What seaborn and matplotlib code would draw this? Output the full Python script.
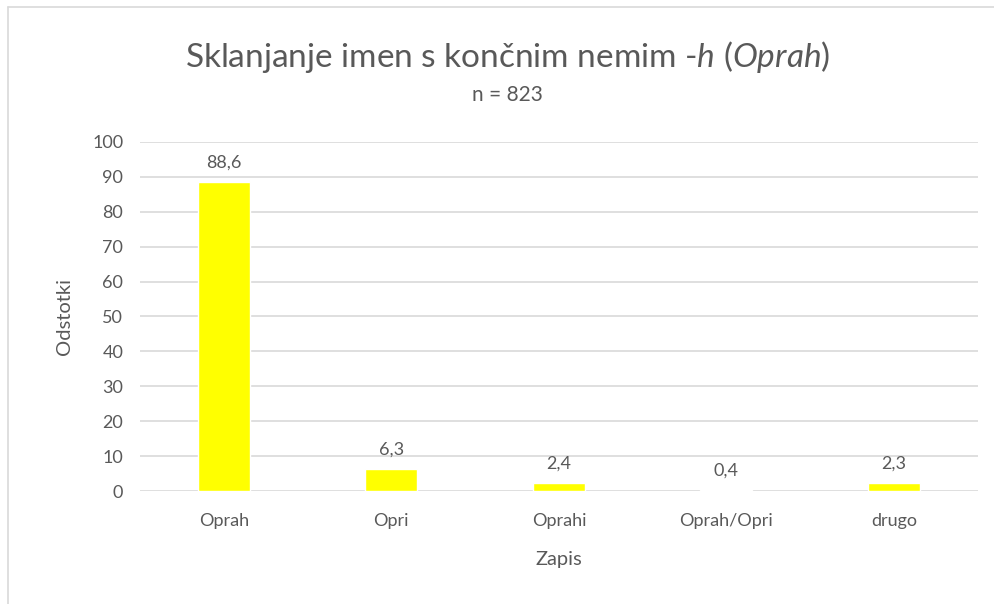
import pandas as pd
import matplotlib
matplotlib.use("Agg")
import matplotlib.pyplot as plt
import seaborn as sns

# data
zapis = ["Oprah", "Opri", "Oprahi", "Oprah/Opri", "drugo"]
odstotki = [88.6, 6.3, 2.4, 0.4, 2.3]
yticks = [0, 10, 20, 30, 40, 50, 60, 70, 80, 90, 100]

df = pd.DataFrame({"zapis": zapis, "odstotki": odstotki})

sns.set_style("white")
plt.rcParams["font.family"] = ["Lato", "DejaVu Sans"]
plt.rcParams["mathtext.fontset"] = "custom"
plt.rcParams["mathtext.rm"] = "Lato"
plt.rcParams["mathtext.it"] = "Lato:italic"

txt = "#595959"
fig = plt.figure(figsize=(9.95, 6.04), dpi=100)
ax = fig.add_axes([0.1407, 0.187, 0.842, 0.578])

sns.barplot(data=df, x="zapis", y="odstotki", color="#FFFF00", saturation=1,
            width=0.31, ax=ax, zorder=3)

ax.set_ylim(0, 100)
ax.set_yticks(yticks)
ax.grid(axis="y", color="#D9D9D9", linewidth=1.2, zorder=0)
for s in ax.spines.values():
    s.set_visible(False)
ax.tick_params(axis="both", length=0, colors=txt, labelsize=13)
ax.tick_params(axis="x", pad=16)
ax.tick_params(axis="y", pad=12)

for i, v in enumerate(odstotki):
    ax.annotate(f"{v:.1f}".replace(".", ","), (i, v), xytext=(0, 8),
                textcoords="offset points", ha="center", va="bottom",
                color=txt, fontsize=13)

ax.set_xlabel("Zapis", color=txt, fontsize=14.5, labelpad=16)
ax.set_ylabel("Odstotki", color=txt, fontsize=14.5, labelpad=14)

fig.text(0.51, 0.906, r"Sklanjanje imen s končnim nemim -$\mathit{h}$ ($\mathit{Oprah}$)",
         ha="center", va="center", color=txt, fontsize=24)
fig.text(0.51, 0.842, "n = 823", ha="center", va="center", color=txt, fontsize=15)

# chart frame like the spreadsheet export
fig.add_artist(plt.Line2D([0.008, 0.008], [0, 0.988], color="#D9D9D9", lw=1.2))
fig.add_artist(plt.Line2D([0.008, 1], [0.988, 0.988], color="#D9D9D9", lw=1.2))

fig.savefig("out.png", dpi=100)
